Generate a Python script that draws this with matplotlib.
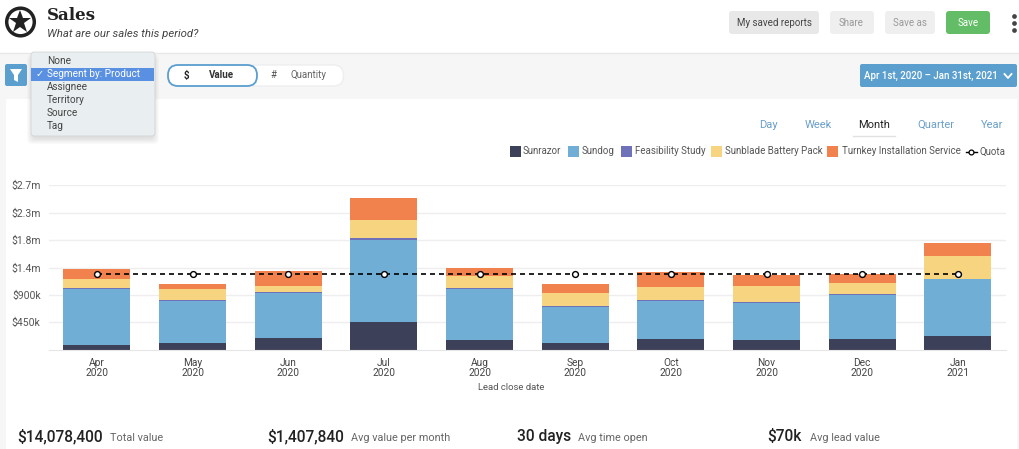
import matplotlib
matplotlib.use('Agg')
import matplotlib.pyplot as plt
from matplotlib.patches import FancyBboxPatch, Rectangle, Circle, Polygon

W, H = 1020, 449

months = ['Apr\n2020', 'May\n2020', 'Jun\n2020', 'Jul\n2020', 'Aug\n2020',
          'Sep\n2020', 'Oct\n2020', 'Nov\n2020', 'Dec\n2020', 'Jan\n2021']
sunrazor = [0.077, 0.109, 0.197, 0.449, 0.164, 0.109, 0.181, 0.164, 0.175, 0.219]
sundog = [0.925, 0.695, 0.728, 1.352, 0.826, 0.597, 0.624, 0.597, 0.728, 0.936]
feasibility = [0.016, 0.011, 0.016, 0.033, 0.016, 0.011, 0.016, 0.022, 0.011, 0.011]
sunblade = [0.142, 0.175, 0.109, 0.296, 0.208, 0.213, 0.208, 0.268, 0.181, 0.367]
turnkey = [0.170, 0.093, 0.235, 0.356, 0.131, 0.153, 0.241, 0.175, 0.153, 0.213]
quota = [1.248] * 10
y_ticks = [0.45, 0.9, 1.35, 1.8, 2.25, 2.7]
y_labels = ['$450k', '$900k', '$1.4m', '$1.8m', '$2.3m', '$2.7m']

series_names = ['Sunrazor', 'Sundog', 'Feasibility Study', 'Sunblade Battery Pack',
                'Turnkey Installation Service']
series_colors = ['#3d4059', '#71aed6', '#6f72b8', '#f7d47f', '#f1824d']
legend_swatch_x = [510, 568, 621, 711, 827]
legend_text_x = [523, 582, 635, 725, 842]

plt.rcParams['font.family'] = ['Roboto', 'DejaVu Sans']

fig = plt.figure(figsize=(W / 100, H / 100), dpi=100)

# page chrome, in pixel coordinates
bg = fig.add_axes([0, 0, 1, 1], zorder=0)
bg.set_xlim(0, W)
bg.set_ylim(H, 0)
bg.axis('off')


def button(ax, x, y, w, h, color, r=3, **kw):
    p = FancyBboxPatch((x + r, y + r), w - 2 * r, h - 2 * r,
                       boxstyle='round,pad=%d,rounding_size=%d' % (r, r),
                       fc=color, ec=kw.pop('ec', 'none'), **kw)
    ax.add_patch(p)
    return p


bg.add_patch(Rectangle((0, 53), W, H - 53, fc='#f6f6f6', ec='none'))
bg.plot([0, W], [52.5, 52.5], color='#e8e8e8', lw=1)
bg.add_patch(Rectangle((6, 99), 1011, H - 99, fc='white', ec='none'))

# logo and title
bg.add_patch(Circle((20.5, 22), 13.8, fc='white', ec='#222222', lw=2.5))
bg.plot([20.5], [21.5], marker='*', ms=17, color='#222222', mew=0)
bg.text(47, 20, 'Sales', fontsize=12, fontweight='bold', family='DejaVu Serif',
        color='#222222', va='baseline')
bg.text(47, 37, 'What are our sales this period?', fontsize=8.2, style='italic',
        color='#444444', va='baseline')

# header buttons
button(bg, 729, 11, 90, 23, '#e8e8e8')
bg.text(774, 22.5, 'My saved reports', fontsize=7, color='#444444', ha='center', va='center')
button(bg, 830, 11, 44, 23, '#efefef')
bg.text(851, 22.5, 'Share', fontsize=7, color='#999999', ha='center', va='center')
button(bg, 885, 11, 50, 23, '#efefef')
bg.text(910, 22.5, 'Save as', fontsize=7, color='#999999', ha='center', va='center')
button(bg, 946, 11, 44, 23, '#62bd66')
bg.text(968, 22.5, 'Save', fontsize=7, color='white', ha='center', va='center')
bg.plot([1014, 1014, 1014], [15.5, 23, 29.5], ls='none', marker='o', ms=3.4, color='#444444', mew=0)

# filter row
button(bg, 5, 64, 22, 22, '#5b9fcf', r=2)
bg.add_patch(Polygon([(10, 69), (22, 69), (18, 75), (18, 82), (14, 80), (14, 75)], fc='white', ec='none'))
button(bg, 167.5, 65, 176, 21, 'white', r=10, ec='#eeeeee', lw=1)
button(bg, 168, 65, 89, 21, 'white', r=10, ec='#5b9fcf', lw=1.3)
bg.text(186, 75.5, '$', fontsize=7, fontweight='bold', color='#222222', ha='center', va='center')
bg.text(221, 75.5, 'Value', fontsize=7, fontweight='bold', color='#333333', ha='center', va='center')
bg.text(273, 75.5, '#', fontsize=7, color='#555555', ha='center', va='center')
bg.text(309, 75.5, 'Quantity', fontsize=7, color='#666666', ha='center', va='center')
button(bg, 860, 64, 157, 23, '#5b9fcf', r=2)
bg.text(864, 78.5, 'Apr 1st, 2020 \u2013 Jan 31st, 2021', fontsize=7, fontweight='medium',
        color='white', va='baseline')
bg.plot([1004.5, 1008, 1011.5], [74, 78, 74], color='white', lw=1.3)

# period tabs
tabs = ['Day', 'Week', 'Month', 'Quarter', 'Year']
tabs_x = [768.5, 818, 874, 935.5, 992]
for t, x in zip(tabs, tabs_x):
    bg.text(x, 127.5, t, fontsize=8, ha='center', va='baseline',
            color='#222222' if t == 'Month' else '#6a9fc9')
bg.plot([853, 895], [135.5, 135.5], color='#e2e2e2', lw=1)

# legend
for name, color, sx, tx in zip(series_names, series_colors, legend_swatch_x, legend_text_x):
    bg.add_patch(Rectangle((sx, 146), 11.5, 11, fc=color, ec='none'))
    bg.text(tx, 154.5, name, fontsize=7, color='#555555', va='baseline')
bg.plot([966, 977], [151.5, 151.5], color='black', lw=1)
bg.plot([971.5], [151.5], marker='o', ms=3.5, mfc='white', mec='black', mew=0.9)
bg.text(980, 154.5, 'Quota', fontsize=7, color='#555555', va='baseline')

# chart
ax = fig.add_axes([49 / W, 1 - 349.7 / H, 956.7 / W, 164.4 / H], zorder=1)
ax.patch.set_alpha(0)
x = list(range(len(months)))
bottom = [0] * len(months)
for vals, color in zip([sunrazor, sundog, feasibility, sunblade, turnkey], series_colors):
    ax.bar(x, vals, width=0.70, bottom=bottom, color=color, zorder=2)
    bottom = [b + v for b, v in zip(bottom, vals)]
ax.plot(x, quota, color='black', lw=1.2, dashes=(3, 2.4), zorder=3,
        marker='o', ms=4.2, mfc='white', mec='black', mew=1)
ax.set_xlim(-0.5, 9.5)
ax.set_ylim(0, 2.7)
ax.set_yticks(y_ticks)
ax.set_yticklabels(y_labels, fontsize=7.5, color='#555555')
ax.set_xticks(x)
ax.set_xticklabels(months, fontsize=7.3, color='#444444', linespacing=1.05)
ax.tick_params(length=0)
ax.tick_params(axis='x', pad=6)
ax.tick_params(axis='y', pad=6)
ax.grid(axis='y', color='#eeeeee', lw=1, zorder=0)
ax.set_axisbelow(True)
for s in ['top', 'right', 'left']:
    ax.spines[s].set_visible(False)
ax.spines['bottom'].set_color('#e6e6e6')
ax.set_xlabel('Lead close date', fontsize=6.8, color='#555555')
ax.xaxis.set_label_coords(0.4834, -0.205)

# summary row
stats_x = [17, 267, 517, 767]
stats_value = ['$14,078,400', '$1,407,840', '30 days', '$70k']
stats_label = ['Total value', 'Avg value per month', 'Avg time open', 'Avg lead value']
stats_label_x = [110, 351, 578, 810]
for sx, v, lx, l in zip(stats_x, stats_value, stats_label_x, stats_label):
    bg.text(sx, 441, v, fontsize=11.2, fontweight='medium', color='#222222', va='baseline')
    bg.text(lx, 441, l, fontsize=7.8, color='#666666', va='baseline')

# open dropdown sits on top of everything
top = fig.add_axes([0, 0, 1, 1], zorder=2)
top.set_xlim(0, W)
top.set_ylim(H, 0)
top.axis('off')
for i in range(6):
    button(top, 31 - 4 + i, 54 + i, 124 + 8 - 2 * i, 84 + 6 - 2 * i, 'black', r=5, alpha=0.02)
button(top, 31, 52, 124, 84, '#e9eef0', r=3, ec='#cfcfcf', lw=0.5)
top.add_patch(Rectangle((31.5, 68), 123, 13, fc='#5a90e2', ec='none'))
items = ['None', 'Segment by: Product', 'Assignee', 'Territory', 'Source', 'Tag']
items_y = [61, 74, 87, 100, 113, 126]
for it, y in zip(items, items_y):
    sel = it.startswith('Segment')
    top.text(47, y + 3, it, fontsize=7.2, va='baseline', color='white' if sel else '#444444')
top.text(36, 74, '\u2713', fontsize=7, va='center', ha='left', color='white', family='DejaVu Sans')

fig.savefig('out.png', dpi=100)
